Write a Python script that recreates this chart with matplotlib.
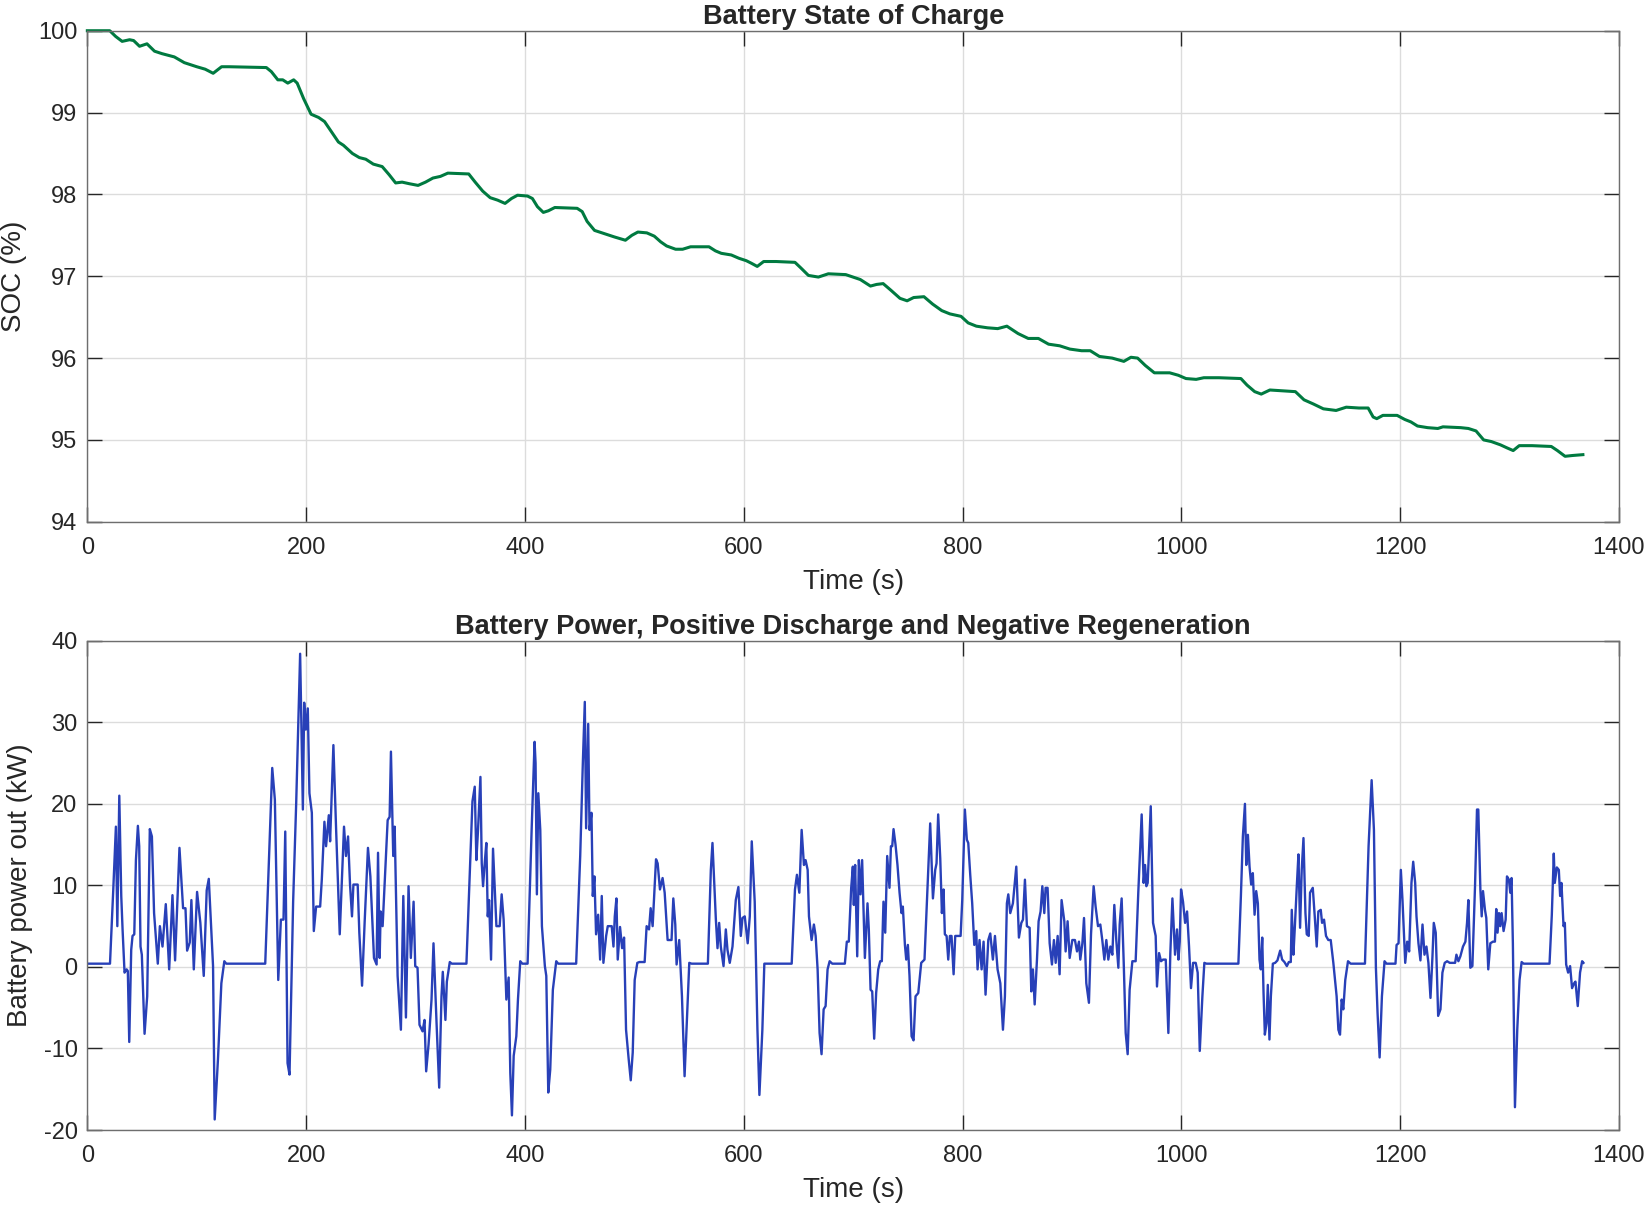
import matplotlib
matplotlib.use("Agg")
import matplotlib.pyplot as plt

# SOC trace
soc_time = [0, 20.5, 25.9, 31.8, 38.6, 42.3, 47.7, 54.5, 61.4, 68.2,
            79.5, 88.6, 100, 107.7, 115, 122.7, 129.5, 163.6, 168.2, 174.1,
            178.6, 183.2, 188.6, 191.8, 197.7, 204.5, 211.4, 216.8, 225, 229.5,
            234.1, 242.3, 248.6, 254.5, 261.4, 269.5, 275.9, 281.8, 287.7, 294.5,
            302.3, 309.1, 315.9, 322.7, 329.5, 348.6, 354.5, 361.4, 368.2, 375,
            381.8, 387.7, 393.2, 402.3, 406.8, 411.4, 416.8, 421.4, 427.3, 447.7,
            452.3, 456.8, 463.6, 470.5, 481.8, 491.8, 497.7, 503.2, 511.4, 518.2,
            524.1, 529.5, 537.7, 544.1, 551.4, 568.2, 574.1, 579.5, 588.6, 595.5,
            602.3, 606.8, 612.3, 618.2, 629.5, 646.8, 652.3, 659.1, 668.2, 677.3,
            693.2, 706.5, 715.8, 721.4, 727.4, 734.4, 742.8, 749.3, 755.3, 764.7,
            772.6, 781, 788.4, 798.6, 805.1, 812.6, 822.8, 832.1, 840.5, 850.7,
            860, 869.3, 878.6, 888.8, 898.1, 908.8, 916.7, 925.1, 936.7, 947.4,
            953.9, 960, 967, 975.3, 981.9, 989.3, 997.2, 1004.2, 1013.5, 1020.5,
            1034.4, 1054.4, 1060, 1067, 1073, 1080.9, 1092.6, 1104.2, 1112.1, 1120.5,
            1129.8, 1141.4, 1150.7, 1162.3, 1170.7, 1175.3, 1178.6, 1184.2, 1197.2, 1204.2,
            1209.8, 1215.8, 1225.1, 1234.4, 1239.1, 1255.3, 1262.3, 1269.3, 1276.3, 1283.3,
            1291.6, 1298.1, 1303.3, 1308.8, 1320.5, 1338.1, 1343.7, 1350.7, 1357.7, 1367]
soc_pct = [100, 100, 99.93, 99.87, 99.89, 99.88, 99.81, 99.84, 99.75, 99.72,
           99.68, 99.61, 99.56, 99.53, 99.48, 99.56, 99.56, 99.55, 99.5, 99.4,
           99.4, 99.36, 99.4, 99.36, 99.17, 98.98, 98.94, 98.89, 98.73, 98.64,
           98.6, 98.5, 98.45, 98.43, 98.37, 98.34, 98.24, 98.14, 98.15, 98.13,
           98.11, 98.15, 98.2, 98.22, 98.26, 98.25, 98.15, 98.04, 97.96, 97.93,
           97.89, 97.95, 97.99, 97.98, 97.95, 97.85, 97.78, 97.8, 97.84, 97.83,
           97.79, 97.67, 97.56, 97.53, 97.48, 97.44, 97.5, 97.54, 97.53, 97.49,
           97.42, 97.37, 97.33, 97.33, 97.36, 97.36, 97.31, 97.28, 97.26, 97.22,
           97.19, 97.16, 97.12, 97.18, 97.18, 97.17, 97.1, 97.01, 96.99, 97.03,
           97.02, 96.96, 96.88, 96.9, 96.91, 96.83, 96.73, 96.7, 96.74, 96.75,
           96.66, 96.58, 96.54, 96.51, 96.43, 96.39, 96.37, 96.36, 96.39, 96.3,
           96.24, 96.24, 96.17, 96.15, 96.11, 96.09, 96.09, 96.02, 96.0, 95.96,
           96.01, 96.0, 95.91, 95.82, 95.82, 95.82, 95.79, 95.75, 95.74, 95.76,
           95.76, 95.75, 95.67, 95.59, 95.56, 95.61, 95.6, 95.59, 95.49, 95.44,
           95.38, 95.36, 95.4, 95.39, 95.39, 95.28, 95.26, 95.3, 95.3, 95.25,
           95.22, 95.17, 95.15, 95.14, 95.16, 95.15, 95.14, 95.11, 95.0, 94.98,
           94.94, 94.9, 94.87, 94.93, 94.93, 94.92, 94.87, 94.8, 94.81, 94.82]

# battery power trace
pow_time = [0, 20.7, 23.7, 26.1, 27.4, 29.2, 31, 32.2, 34, 35.9,
            37, 38.3, 40.1, 41.3, 42.9, 44.4, 46.2, 47.4, 48.6, 49.8,
            52.3, 54.7, 57.1, 59, 61, 64.4, 66.3, 68.7, 71.7, 74.8,
            77.8, 80.2, 84.2, 87.5, 89.7, 91.2, 93.6, 95.1, 97.3, 100.3,
            103.3, 106.4, 109.1, 111, 114.9, 116.4, 119.4, 122.5, 125.2, 127,
            162.6, 169, 171.4, 174.5, 176.9, 179.3, 180.9, 183, 184.8, 188.1,
            190.9, 194.5, 197, 198.2, 199.7, 201.5, 203, 205.2, 207, 209.1,
            212.8, 214.3, 216.7, 218.2, 220.7, 221.9, 224.9, 227.4, 230.7, 234.6,
            236.4, 238.3, 240.1, 241.9, 243.2, 247.1, 248.6, 251.1, 253.5, 256.5,
            258.7, 262, 264.4, 265.7, 267.2, 268.1, 269.9, 274.5, 276.3, 277.5,
            279.6, 280.9, 283.6, 286.6, 288.8, 291.2, 293.6, 295.7, 298.2, 299.7,
            301.8, 303.6, 306.4, 308.2, 309.7, 311.9, 314.6, 316.4, 319.2, 321.6,
            323.7, 324.9, 327.3, 328.6, 331.3, 333.1, 346.5,
            352, 354.1, 355.6, 357.1, 359.3, 360.5, 361.7, 363.2, 364.7, 366,
            367.2, 369, 370.8, 372.6, 373.9, 376.9, 378.7, 380.5, 383, 385.1,
            386.6, 388.1, 389.7, 392.1, 393.6, 395.7, 397.6, 402.4, 406.1, 408.8,
            409.7, 410.9, 412.2, 414, 415.5, 418.2, 419.5, 421.3, 423.1, 425.5,
            428.6, 430.4, 446.8, 450.5, 452.9, 454.7, 455.9, 457.8, 459, 460.8,
            462, 463.5, 465, 466.9, 468.7, 470.2, 471.7, 474.2, 475.7, 479.3,
            480.9, 482.1, 483.6, 484.8, 486.9, 488.8, 490.6, 492.4, 494.8, 496.7,
            498.5, 500.3, 502.7, 504.6, 509.4, 511.2, 513.4, 514.9, 516.7, 519.8,
            521.3, 523.4, 525.8, 527.7, 530.4, 534, 535.6, 537.4, 538.6, 541,
            543.5, 545.9, 547.7, 550.2, 552.3, 567.2, 569.9, 571.4, 573, 574.5,
            576, 577.5, 579, 581.5, 583.6, 585.1, 587.2, 589.7, 592.7, 595.1,
            597.3, 598.8, 600.9, 603.6, 605.5, 607.3, 610, 612.5, 614.3, 617,
            618.8, 643.8, 646.8, 648.6, 650.8, 652.9, 655, 656.5, 658.4, 659.6,
            662, 664.1, 665.7, 667.5, 669.3, 671.1, 673, 674.8, 676.6, 678.5,
            680.9, 692.4,
            694.2, 696, 698.2, 699.7, 700.6, 701.8, 703.7, 705.2, 706.7, 708.2,
            710.7, 713.1, 714.3, 715.9, 717.4, 719.2, 721, 722.9, 724.7, 726.2,
            727.7, 729.3, 731.1, 733.2, 734.5, 735.7, 736.9, 738.7, 740.5, 742.4,
            744.2, 745.4, 747.3, 748.5, 750, 751.5, 753.4, 755.2, 757, 759.5,
            762.2, 765.2, 768.3, 770.4, 772.9, 775, 776.2, 777.7, 779.6, 781.1,
            782.6, 783.8, 785.4, 786.9, 788.4, 789.9, 791.8, 793.3, 796, 798.2,
            799.7, 802.1, 803.9, 805.2, 807, 808.8, 810.7, 812.5, 813.7, 815.5,
            817.4, 819.2, 821, 823.5, 825.3, 827.7, 829.6, 832, 834.5, 836.9,
            838.7, 840.5, 841.8, 843.6, 846, 849.1, 851.5, 853.7, 855.2, 857,
            858.8, 861.3, 862.8, 864.3, 865.9, 868, 869.5, 871.3, 872.9, 874.7,
            875.9, 877.7, 879.6, 881.7, 883.5, 885.1, 886.9, 888.7, 890.5, 893,
            894.2, 896, 897.9, 900.3, 902.7, 904.6, 906.4, 907.6, 909.5, 911,
            913.1, 915.5, 917.4, 919.8, 921.6, 923.8, 925.9, 927.7, 929.6, 931.4,
            933.2, 935.1, 936.9, 938.7, 940.5, 942.4, 943.6, 945.4, 947.3, 949.1,
            950.9, 952.7, 955.2, 958.2, 960.6, 963.7, 965.5, 966.8, 968, 969.2,
            972, 974.1, 976.5, 977.7, 979.6, 981.4, 983.2, 985.7, 988.1, 989.9,
            991.8, 994.2, 996, 997.3, 998.5, 999.7, 1001.5, 1003.4, 1005.2, 1007,
            1008.8, 1010.7, 1013.1, 1014.9, 1016.8, 1019.2, 1021, 1022.9, 1052.1,
            1054.4, 1056.2, 1058.1, 1059.3, 1060.8, 1062.3, 1063.8, 1065.3, 1066.9, 1068.4,
            1069.9, 1071.4, 1072.6, 1073.9, 1075.1, 1076.3, 1077.8, 1079, 1080.5, 1081.8,
            1083.6, 1085.7, 1087.8, 1090.3, 1092.1, 1094.2, 1096.4, 1098.2, 1100, 1100.9,
            1102.4, 1103.6, 1105.5, 1107, 1108.5, 1110, 1111.6, 1113.4, 1114.6, 1116.4,
            1117.6, 1120.1, 1121.9, 1123.7, 1125.2, 1127.4, 1128.6, 1130.4, 1132.2, 1134.3,
            1136.5, 1138.9, 1140.7, 1141.9, 1143.5, 1145, 1146.5, 1148, 1149.8, 1152.3,
            1154.7, 1167.8, 1171.1, 1173.9, 1176, 1177.8, 1179.3, 1181.2, 1183.3, 1185.7,
            1187.5, 1195.7, 1196.7, 1198.5, 1200.6, 1202.1, 1204.6, 1206.4, 1208.2, 1210.3,
            1211.9, 1213.7, 1214.9, 1216.7, 1218.5, 1220.4, 1222.2, 1224, 1225.8, 1227.7,
            1229.5, 1230.7, 1232.5, 1234.7, 1236.8, 1238.6, 1240.7, 1242.9, 1245.3, 1250.2,
            1251.4, 1253.2, 1255, 1257.4, 1259.6, 1261.1, 1262.3, 1264.1, 1266, 1268.4,
            1270.2, 1271.4, 1273.3, 1274.5, 1275.7, 1277.5, 1278.7, 1280.5, 1282.4, 1284.8,
            1286.6, 1287.8, 1289, 1290.3, 1291.5, 1292.7, 1294.5, 1296.4, 1297.6, 1299.4,
            1300.6, 1301.8, 1303, 1304.9, 1307, 1309.1, 1311, 1312.8, 1336.5, 1338.6,
            1340.4, 1341.3, 1343.2, 1345, 1346.2, 1347.4, 1349.3, 1350.5, 1351.7, 1353.5,
            1355.3, 1357.1, 1359, 1360.2, 1362.3, 1364.4, 1366.3, 1367.5]
pow_kw = [0.4, 0.4, 9.5, 17.2, 5, 21, 8.7, 4.6, -0.7, -0.3,
          -0.5, -9.2, 2.1, 3.8, 4, 13.1, 17.3, 14.8, 2.5, 1.5,
          -8.2, -3.6, 16.9, 16, 6.6, 0.4, 5, 2.5, 7.7, -0.3,
          8.8, 0.8, 14.6, 7.2, 7.2, 2, 3, 8.2, -0.3, 9.2,
          5.4, -1.1, 9.4, 10.8, 0.1, -18.7, -11.3, -2, 0.7, 0.4,
          0.4, 24.4, 20.5, -1.6, 5.8, 5.8, 16.6, -11.8, -13.2, 8,
          20.1, 38.4, 19.3, 32.4, 29.1, 31.7, 21.3, 18.9, 4.4, 7.4,
          7.4, 10.7, 17.8, 14.8, 18.6, 15.4, 27.2, 16.8, 4, 17.2,
          13.6, 16, 10.1, 6.2, 10.1, 10.1, 4.2, -2.3, 5.6, 14.6,
          11.1, 1.1, 0.3, 14, 1.1, 6.8, 5, 18, 18.4, 26.4,
          13.6, 17.2, -1.1, -7.7, 8.7, -6.2, 9.9, 1.1, 8, 0.1,
          -0.1, -7.1, -7.9, -6.5, -12.8, -9.5, -4, 2.9, -6.9, -14.8,
          -3.6, -0.6, -6.5, -1.8, 0.6, 0.4, 0.4,
          20.3, 22.1, 13.1, 16.8, 23.3, 12.7, 9.9, 12.7, 15.2, 6.2,
          8.2, 0.9, 14.5, 9.1, 5, 5, 8.9, 5.8, -4, -1.3,
          -13, -18.2, -10.9, -8.5, -4, 0.7, 0.4, 0.4, 16.8, 27.6,
          25, 8.9, 21.3, 16.8, 5, 0.1, -1.1, -15.4, -12.6, -2.8,
          0.7, 0.4, 0.4, 13.6, 25, 32.5, 17, 29.8, 16.8, 18.9,
          8.7, 11.1, 4, 6.4, 0.9, 8.7, 0.5, 3.8, 5, 5,
          2.5, 6.2, 8.4, 0.9, 4.9, 2.3, 3.6, -7.7, -11.3, -13.9,
          -10.5, -1.6, 0.5, 0.6, 0.6, 5, 4.6, 7.2, 5, 13.2,
          12.7, 9.5, 10.9, 9.1, 3.3, 3.3, 8.4, 5.2, 0.3, 3.3,
          -3.6, -13.4, -7.7, 0.5, 0.4, 0.4, 11.9, 15.2, 10.3, 5.8,
          2.3, 5.4, 2.5, 0.1, 4.6, 2.1, 0.5, 2.5, 8.2, 9.8,
          3.8, 6, 6.2, 2.9, 6.2, 15.4, 8, -7.7, -15.7, -7.7,
          0.4, 0.4, 9.5, 11.3, 9.1, 16.8, 12.5, 13.1, 11.9, 6.2,
          3.3, 5.2, 3.8, -0.3, -8.1, -10.7, -5.2, -4.8, -0.3, 0.7,
          0.4, 0.4,
          3.1, 3.1, 9.7, 12.3, 7.6, 12.5, 1.3, 13.1, 8.9, 13.1,
          1.1, 7.8, 4.6, -2.8, -3, -8.8, -3.2, -0.3, 0.7, 0.7,
          8, 4.2, 13.6, 9.7, 14.8, 14.8, 16.9, 15, 12.5, 9.1,
          6.6, 7.4, 2.7, 0.9, 2.7, -1.1, -8.5, -9, -3.6, -3.2,
          0.5, 0.9, 10.7, 17.6, 8.4, 11.9, 12.7, 18.7, 13.3, 6.6,
          9.5, 4, 3.8, 0.9, 3.8, 3.8, -0.9, 3.8, 3.8, 3.8,
          8.2, 19.3, 15.6, 15.2, 11.3, 7.8, 2.7, 4.4, -0.3, 3.3,
          -0.3, 3.1, -3.4, 3.3, 4.1, 0.9, 3.8, -0.3, -2, -7.7,
          -3.6, 7.8, 8.9, 6.6, 7.8, 12.3, 3.6, 5.4, 5.8, 10.7,
          5, 4.8, -3, -0.3, -4.6, 0.9, 5.6, 6.8, 9.9, 6.6,
          9.7, 9.7, 2.9, 0.3, 3.3, 0.5, 3.8, -0.9, 8.2, 5.6,
          1.9, 5.6, 1.1, 3.3, 3.3, 1.9, 3.1, 0.9, 2.9, 6,
          -2, -4.4, 4, 9.9, 7.4, 5, 5.2, 3.3, 0.9, 3.3,
          0.9, 2.5, 1.5, 7.6, 3.3, -0.1, 5.2, 8.4, 0.5, -8.1,
          -10.7, -2.8, 0.7, 0.7, 9.1, 18.7, 10.3, 12.5, 9.9, 10.3,
          19.7, 5.4, 3.8, -2.4, 1.7, 0.7, 0.9, 0.9, -8.1, 1.7,
          8.4, 1.5, 4.6, 0.9, 3.1, 9.5, 8, 5.4, 6.8, 2.5,
          -2.6, 0.5, 0.5, -0.7, -10.3, -3.6, 0.5, 0.4, 0.4,
          8.7, 16, 20, 12.5, 16.2, 12.3, 10.1, 11.5, 6.4, 9.3,
          7.8, 0.9, -0.3, 3.6, -3.2, -8.3, -6.9, -2.2, -8.9, -3.6,
          0.4, 0.5, 0.8, 2, 0.9, 0.6, 0.1, 0.6, 0.6, 7,
          1.5, 4.6, 9.9, 13.8, 4.8, 11.9, 15.8, 6.6, 4, 3.8,
          9.1, 9.7, 6.2, 2.5, 6.8, 7, 5.4, 5.8, 3.8, 3.3,
          3.3, 0.5, -2, -3.6, -7.7, -8.3, -4, -5.2, -1.6, 0.7,
          0.4, 0.4, 14.8, 22.9, 16.8, -0.1, -5.6, -11.1, -3.6, 0.7,
          0.4, 0.4, 2.7, 2.9, 11.9, 8.2, 0.5, 3.1, 1.9, 10.3,
          12.9, 10.3, 6.2, 2.9, 0.8, 5.2, 1.5, 2.5, 0.5, -3.8,
          1.3, 5.4, 4.2, -6, -5.2, -0.7, 0.5, 0.7, 0.5, 0.5,
          1.5, 0.7, 1.3, 2.5, 3.1, 5.4, 8.2, -0.1, 0.1, 9.9,
          19.3, 19.3, 9.5, 6.2, 9.3, 7, 6, -0.3, 2.9, 3.1,
          3.1, 7.1, 4.2, 6.6, 5, 6.6, 4.4, 5.8, 11.1, 10.7,
          9.1, 10.9, 2.9, -17.2, -7.7, -1.6, 0.6, 0.4, 0.4, 6.4,
          13.9, 10.3, 12.2, 11.9, 8.7, 10.3, 5, 5.4, 0.3, -0.7,
          0.1, -2.6, -2, -1.8, -4.8, -0.7, 0.7, 0.5]

assert len(soc_time) == len(soc_pct)
assert len(pow_time) == len(pow_kw)

plt.rcParams['font.family'] = ['Liberation Sans', 'DejaVu Sans']
plt.rcParams['axes.unicode_minus'] = False

fig = plt.figure(figsize=(16.48, 12.05), dpi=100)
ax1 = fig.add_axes([0.0530, 0.567, 0.9294, 0.4075])
ax2 = fig.add_axes([0.0530, 0.0622, 0.9294, 0.4061])

txt = '#262626'


def style_axes(ax):
    ax.set_xlim(0, 1400)
    ax.set_xticks(range(0, 1401, 200))
    ax.grid(True, color='#dcdcdc', linewidth=1.0)
    ax.set_axisbelow(True)
    for s in ax.spines.values():
        s.set_color('#6e6e6e')
        s.set_linewidth(1.0)
    ax.tick_params(direction='in', length=11, width=1.0, color=txt,
                   labelcolor=txt, labelsize=17, top=True, right=True)
    ax.tick_params(axis='x', pad=11)
    ax.tick_params(axis='y', pad=7)
    ax.set_xlabel('Time (s)', fontsize=20, color=txt, labelpad=7)


ax1.plot(soc_time, soc_pct, color='#007a40', linewidth=2.2, clip_on=False)
style_axes(ax1)
ax1.set_ylim(94, 100)
ax1.set_title('Battery State of Charge', fontsize=19.5, fontweight='bold',
              color=txt, pad=5)
ax1.set_ylabel('SOC (%)', fontsize=20, color=txt, labelpad=8)

ax2.plot(pow_time, pow_kw, color='#2840b8', linewidth=1.7)
style_axes(ax2)
ax2.set_ylim(-20, 40)
ax2.set_yticks(range(-20, 41, 10))
ax2.set_title('Battery Power, Positive Discharge and Negative Regeneration',
              fontsize=19.5, fontweight='bold', color=txt, pad=5)
ax2.set_ylabel('Battery power out (kW)', fontsize=20, color=txt, labelpad=8)

fig.savefig('out.png', dpi=100, facecolor='white')
